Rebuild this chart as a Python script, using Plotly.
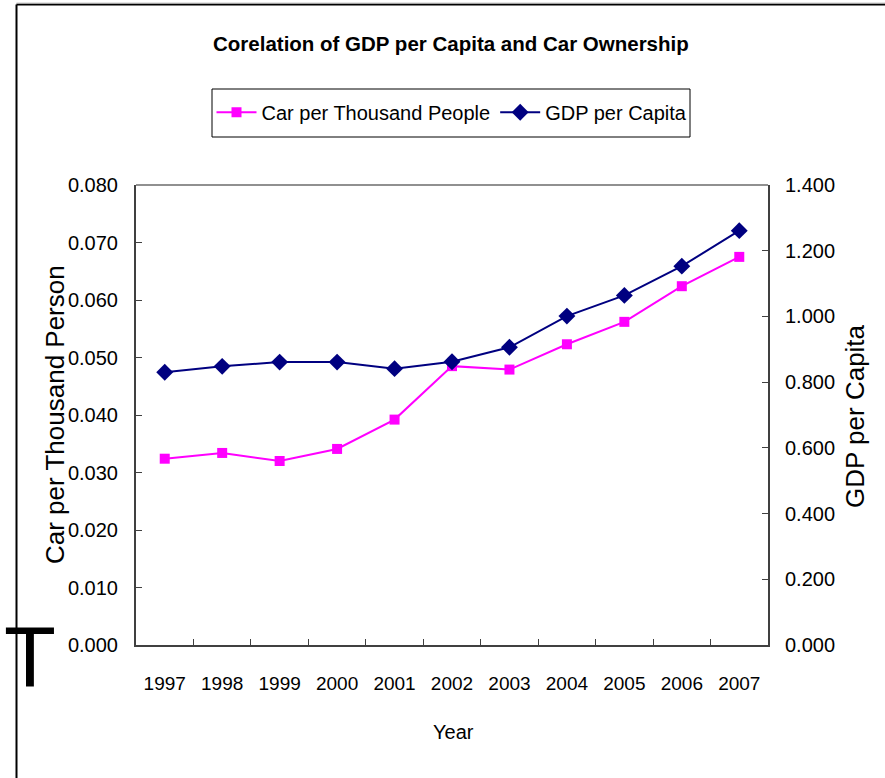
import plotly.graph_objects as go

years = ["1997", "1998", "1999", "2000", "2001", "2002", "2003", "2004", "2005", "2006", "2007"]
car_per_thousand = [0.0324, 0.0334, 0.0320, 0.0341, 0.0392, 0.0485, 0.0479, 0.0523, 0.0562, 0.0624, 0.0675]
gdp_per_capita = [0.830, 0.848, 0.861, 0.861, 0.841, 0.862, 0.906, 1.001, 1.064, 1.153, 1.261]
left_ticks = [0.0, 0.01, 0.02, 0.03, 0.04, 0.05, 0.06, 0.07, 0.08]
right_ticks = [0.0, 0.2, 0.4, 0.6, 0.8, 1.0, 1.2, 1.4]

FONT = "Liberation Sans, Arial, sans-serif"

fig = go.Figure()
fig.add_trace(go.Scatter(
    x=years, y=car_per_thousand, name="Car per Thousand People",
    mode="lines+markers", line=dict(color="#FF00FF", width=2),
    marker=dict(symbol="square", size=10, color="#FF00FF"),
))
fig.add_trace(go.Scatter(
    x=years, y=gdp_per_capita, name="GDP per Capita", yaxis="y2",
    mode="lines+markers", line=dict(color="#000080", width=2),
    marker=dict(symbol="diamond", size=13, color="#000080"),
))

axis_common = dict(showgrid=False, zeroline=False, showline=True, linecolor="#404040", linewidth=2,
                   ticks="inside", ticklen=6, tickcolor="#404040", tickwidth=1, automargin=False)

fig.update_layout(
    width=885, height=778,
    margin=dict(l=136, r=117, t=185, b=133),
    paper_bgcolor="white", plot_bgcolor="white",
    showlegend=True,
    legend=dict(orientation="h", x=0.5, xanchor="center", y=1.158, yanchor="middle",
                borderwidth=0, bgcolor="rgba(0,0,0,0)",
                font=dict(family=FONT, size=20, color="black"),
                itemwidth=40),
    xaxis=dict(type="category", tickson="boundaries", tickangle=0, range=[-0.5, len(years) - 0.5],
               tickfont=dict(family=FONT, size=19, color="black"),
               ticklabelstandoff=20, **axis_common),
    yaxis=dict(range=[0, 0.08], tickvals=left_ticks, tickformat=".3f",
               tickfont=dict(family=FONT, size=20, color="black"), ticklabelstandoff=12, **axis_common),
    yaxis2=dict(range=[0, 1.4], tickvals=right_ticks, tickformat=".3f", overlaying="y", side="right",
                tickfont=dict(family=FONT, size=20, color="black"), ticklabelstandoff=11, **axis_common),
    font=dict(family=FONT, color="black"),
)

def px_x(p):
    return (p - 136) / 632

def px_y(p):
    return (645 - p) / 460

# legend frame
fig.add_shape(type="rect", xref="paper", yref="paper", x0=px_x(212), x1=px_x(690), y0=px_y(137), y1=px_y(89),
              line=dict(color="black", width=1), fillcolor="rgba(0,0,0,0)")
# top border of plot area
fig.add_shape(type="line", xref="paper", yref="paper", x0=0, x1=1, y0=1, y1=1,
              line=dict(color="#909090", width=2))
# outer chart frame (left and top edges)
fig.add_shape(type="line", xref="paper", yref="paper", x0=px_x(16.5), x1=px_x(16.5), y0=px_y(4.5), y1=px_y(790),
              line=dict(color="black", width=2))
fig.add_shape(type="line", xref="paper", yref="paper", x0=px_x(16.5), x1=px_x(900), y0=px_y(4.5), y1=px_y(4.5),
              line=dict(color="black", width=2))
fig.add_shape(type="line", xref="paper", yref="paper", x0=px_x(16.5), x1=px_x(900), y0=px_y(3), y1=px_y(3),
              line=dict(color="#C8C8C8", width=1))

annotations = [
    dict(text="<b>Corelation of GDP per Capita and Car Ownership</b>", x=px_x(451), y=px_y(43),
         font=dict(family=FONT, size=20.5, color="black")),
    dict(text="Car per Thousand Person", x=px_x(55), y=px_y(415), textangle=-90,
         font=dict(family=FONT, size=26, color="black")),
    dict(text="GDP per Capita", x=px_x(855), y=px_y(416), textangle=-90,
         font=dict(family=FONT, size=26, color="black")),
    dict(text="Year", x=px_x(453), y=px_y(732), font=dict(family=FONT, size=20, color="black")),
    dict(text="T", x=px_x(30), y=px_y(656), font=dict(family=FONT, size=85, color="black")),
]
for a in annotations:
    fig.add_annotation(xref="paper", yref="paper", showarrow=False, xanchor="center", yanchor="middle", **a)

fig.write_html("out.html", config={"displayModeBar": False},
               post_script="document.body.style.margin='0px';document.body.style.padding='0px';")
